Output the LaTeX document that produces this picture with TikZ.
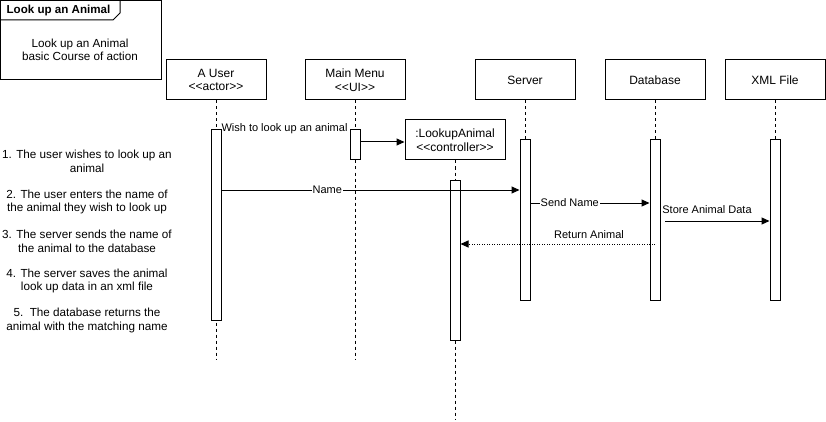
\documentclass[tikz,border=0pt]{standalone}
\usepackage{fontspec}
\setmainfont{Liberation Sans}
\usetikzlibrary{arrows.meta,calc}
\begin{document}
\begin{tikzpicture}[x=1pt,y=-1pt,
  line width=1pt,
  every node/.style={font=\fontsize{12pt}{13.5pt}\selectfont},
  head/.style={draw, fill=white, minimum width=100pt, minimum height=40pt, align=center, inner sep=0pt},
  actbox/.style={draw, fill=white, minimum width=10pt, inner sep=0pt},
  lifeline/.style={dash pattern=on 3pt off 3pt},
  msg/.style={-{Triangle[length=8pt,width=7pt]}},
  retmsg/.style={-{Triangle[length=8pt,width=7pt]}, dash pattern=on 1pt off 1.5pt},
  note/.style={align=center, inner sep=0pt, font=\fontsize{11.7pt}{13.5pt}\selectfont},
  msgtext/.style={inner sep=0pt, font=\fontsize{11pt}{13pt}\selectfont},
  lbl/.style={msgtext, fill=white, inner sep=1pt}]
\useasboundingbox (0,0) rectangle (826,422);

% frame with its name tab
\draw (0.5,0.5) -- (161,0.5) -- (161,80) -- (0.5,80) -- cycle;
\draw (0.5,20) -- (113,20) -- (120,13) -- (120,0.5);
\node[inner sep=0pt, font=\bfseries\fontsize{11.6pt}{13.5pt}\selectfont] (ftitle) at (58.5,11) {Look up an Animal};
\node[note] (fbody) at (80,50) {Look up an Animal\\basic Course of action};

% lifeline heads
\node[head] (user) at (216,80) {A User\\{<}{<}actor{>}{>}};
\node[head] (menu) at (355,80) {Main Menu\\{<}{<}UI{>}{>}};
\node[head] (ctrl) at (455,140) {:LookupAnimal\\{<}{<}controller{>}{>}};
\node[head] (server) at (525,80) {Server};
\node[head] (db) at (655,80) {Database};
\node[head] (xml) at (775,80) {XML File};

% lifeline ends
\coordinate (userend) at (216,360);
\coordinate (menuend) at (355,360);
\coordinate (ctrlend) at (455,420);
\coordinate (serverend) at (525,300);
\coordinate (dbend) at (655,300);
\coordinate (xmlend) at (775,300);

\draw[lifeline] (user.south) -- (userend);
\draw[lifeline] (menu.south) -- (menuend);
\draw[lifeline] (ctrl.south) -- (ctrlend);
\draw[lifeline] (server.south) -- (serverend);
\draw[lifeline] (db.south) -- (dbend);
\draw[lifeline] (xml.south) -- (xmlend);

% activation bars
\node[actbox, minimum height=190pt] (ua) at (216,225) {};
\node[actbox, minimum height=30pt] (ma) at (355,145) {};
\node[actbox, minimum height=160pt] (ca) at (455,260) {};
\node[actbox, minimum height=160pt] (sa) at (525,220) {};
\node[actbox, minimum height=160pt] (da) at (655,220) {};
\node[actbox, minimum height=160pt] (xa) at (775,220) {};

% messages
\node[msgtext] (wish) at (284.5,129) {Wish to look up an animal};
\draw[msg] (ma.east |- 0,142) -- (ctrl.west |- 0,142);
\draw[msg] (ua.east |- 0,190) -- node[lbl, pos=0.355] {Name} (sa.west |- 0,190);
\draw[msg] (sa.east |- 0,203) -- node[lbl, pos=0.33] {Send Name} (da.west |- 0,203);
\coordinate (storestart) at (665,221);
\draw[msg] (storestart) -- (xa.west |- storestart);
\node[msgtext] (storelbl) at (707,210) {Store Animal Data};
\coordinate (retstart) at (655,244);
\draw[retmsg] (retstart) -- (ca.east |- retstart);
\node[msgtext] (retlbl) at (589,235) {Return Animal};

% numbered steps
\node[note] (n1) at (87,161.5) {1. The user wishes to look up an\\animal};
\node[note] (n2) at (87,202) {2. The user enters the name of\\the animal they wish to look up};
\node[note] (n3) at (87,241.5) {3. The server sends the name of\\the animal to the database};
\node[note] (n4) at (87,281) {4. The server saves the animal\\look up data in an xml file};
\node[note] (n5) at (87,320.5) {5.\ \ The database returns the\\animal with the matching name};
\end{tikzpicture}
\end{document}
